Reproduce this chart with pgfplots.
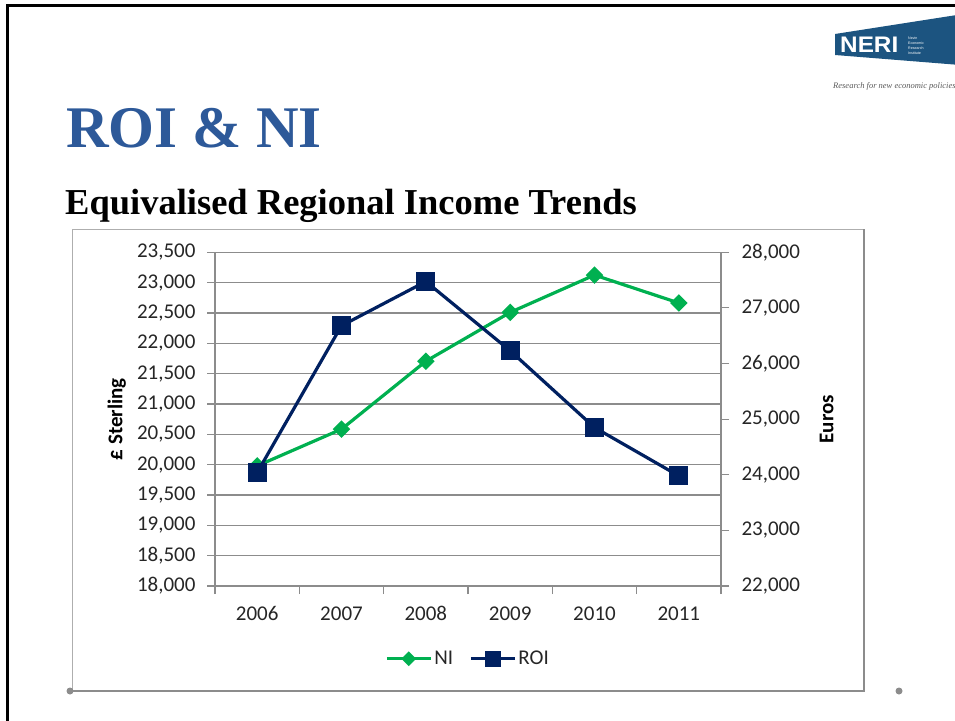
\documentclass[border=0pt]{standalone}
\usepackage{pgfplots}
\pgfplotsset{compat=1.18}
\usepackage{fontspec}
\setmainfont{Carlito}
\newfontfamily\timesfont{Liberation Serif}
\newfontfamily\arialfont{Liberation Sans}

\definecolor{niGreen}{RGB}{0,176,80}
\definecolor{roiNavy}{RGB}{0,32,96}
\definecolor{gridGray}{RGB}{140,140,140}
\definecolor{titleBlue}{RGB}{45,89,153}
\definecolor{logoBlue}{RGB}{28,84,128}
\definecolor{labelGray}{RGB}{38,38,38}

\pgfplotsset{
  ni/.style={niGreen, line width=3.2pt, mark=square*, mark size=4.6pt,
    mark options={solid, rotate=45}},
  roi/.style={roiNavy, line width=3.2pt, mark=square*, mark size=8pt,
    mark options={solid}},
  chartbase/.style={
    at={(215pt,-586pt)}, anchor=south west,
    width=506pt, height=333.7pt, scale only axis,
    xmin=0, xmax=6,
    axis line style={gridGray, line width=1.1pt},
    tick style={gridGray, line width=1.1pt},
    tick align=outside, major tick length=8pt,
    scaled y ticks=false,
    yticklabel style={/pgf/number format/fixed, /pgf/number format/precision=0,
      /pgf/number format/1000 sep={,}},
    /pgf/number format/assume math mode=true,
    tick label style={font=\fontsize{21}{25}\selectfont, text=labelGray},
    label style={font=\bfseries\fontsize{21}{25}\selectfont, text=black},
  },
}

\begin{document}
\begin{tikzpicture}
\useasboundingbox (0,0) rectangle (955pt,-720pt);

% slide frame
\draw[line width=3pt] (7.5pt,-725pt) -- (7.5pt,-5.5pt) -- (960pt,-5.5pt);

% chart box
\draw[gridGray!70, line width=1pt] (72pt,-690pt) -- (72pt,-229pt) -- (864pt,-229pt);
\draw[gridGray, line width=2pt] (72pt,-691pt) -- (864pt,-691pt) -- (864pt,-229pt);
\fill[gridGray] (70pt,-691pt) circle (3.5pt) (899pt,-691pt) circle (3.5pt);

% titles
\node[anchor=base west, inner sep=0, text=titleBlue,
  font=\timesfont\bfseries\fontsize{59}{70}\selectfont] at (66pt,-147.7pt) {ROI \& NI};
\node[anchor=base west, inner sep=0,
  font=\timesfont\bfseries\fontsize{36.5}{44}\selectfont] at (65pt,-214.7pt)
  {Equivalised Regional Income Trends};

% logo
\fill[logoBlue] (835pt,-34pt) -- (960pt,-14.5pt) -- (960pt,-65pt) -- (835pt,-55pt) -- cycle;
\node[anchor=base west, inner sep=0, text=white, xscale=1.08,
  font=\arialfont\bfseries\fontsize{22.5}{22}\selectfont] at (840pt,-52pt) {NERI};
\foreach \w [count=\i] in {Nevin,Economic,Research,Institute}
  \node[anchor=base west, inner sep=0, text=white,
    font=\arialfont\fontsize{3.6}{4}\selectfont] at (908pt,-34pt-5.2pt*\i) {\w};
\node[anchor=base west, inner sep=0, text=black!65,
  font=\timesfont\itshape\fontsize{8.5}{10}\selectfont] at (833pt,-88pt)
  {Research for new economic policies};

% left axis: NI in pounds sterling
\begin{axis}[chartbase,
  ymin=18000, ymax=23500,
  ytick={18000,18500,...,23500},
  yticklabel style={xshift=-8pt},
  xtick={0,...,6}, x tick label as interval,
  xticklabels={2006,2007,2008,2009,2010,2011},
  xticklabel style={yshift=-9pt},
  axis x line*=bottom, axis y line*=left,
  ymajorgrids, grid style={gridGray, line width=1.1pt},
  ylabel={£ Sterling},
  ylabel style={at={(rel axis cs:-0.194,0.5)}, anchor=center},
  legend columns=2,
  legend style={at={(0.5,-0.218)}, anchor=center, draw=none, fill=none,
    font=\fontsize{21}{25}\selectfont, text=labelGray,
    /tikz/every even column/.append style={column sep=14pt}},
  legend image code/.code={
    \draw[#1] (0pt,0pt) -- (44pt,0pt);
    \draw[#1, every mark/.append style={scale=0.78}] plot coordinates {(22pt,0pt)};},
]
\addplot[ni] coordinates {
  (0.5,19980) (1.5,20585) (2.5,21705) (3.5,22510) (4.5,23125) (5.5,22665)
};
\addlegendentry{NI}
\addlegendimage{roi}
\addlegendentry{ROI}
\end{axis}

% right axis: ROI in euros
\begin{axis}[chartbase,
  ymin=22000, ymax=28000,
  ytick={22000,23000,...,28000},
  yticklabel style={xshift=9pt},
  axis x line=none, axis y line*=right,
  ylabel={Euros},
  ylabel style={at={(rel axis cs:1.209,0.5)}, anchor=center},
]
\addplot[roi] coordinates {
  (0.5,24040) (1.5,26680) (2.5,27475) (3.5,26230) (4.5,24850) (5.5,23980)
};
\end{axis}
\end{tikzpicture}
\end{document}
